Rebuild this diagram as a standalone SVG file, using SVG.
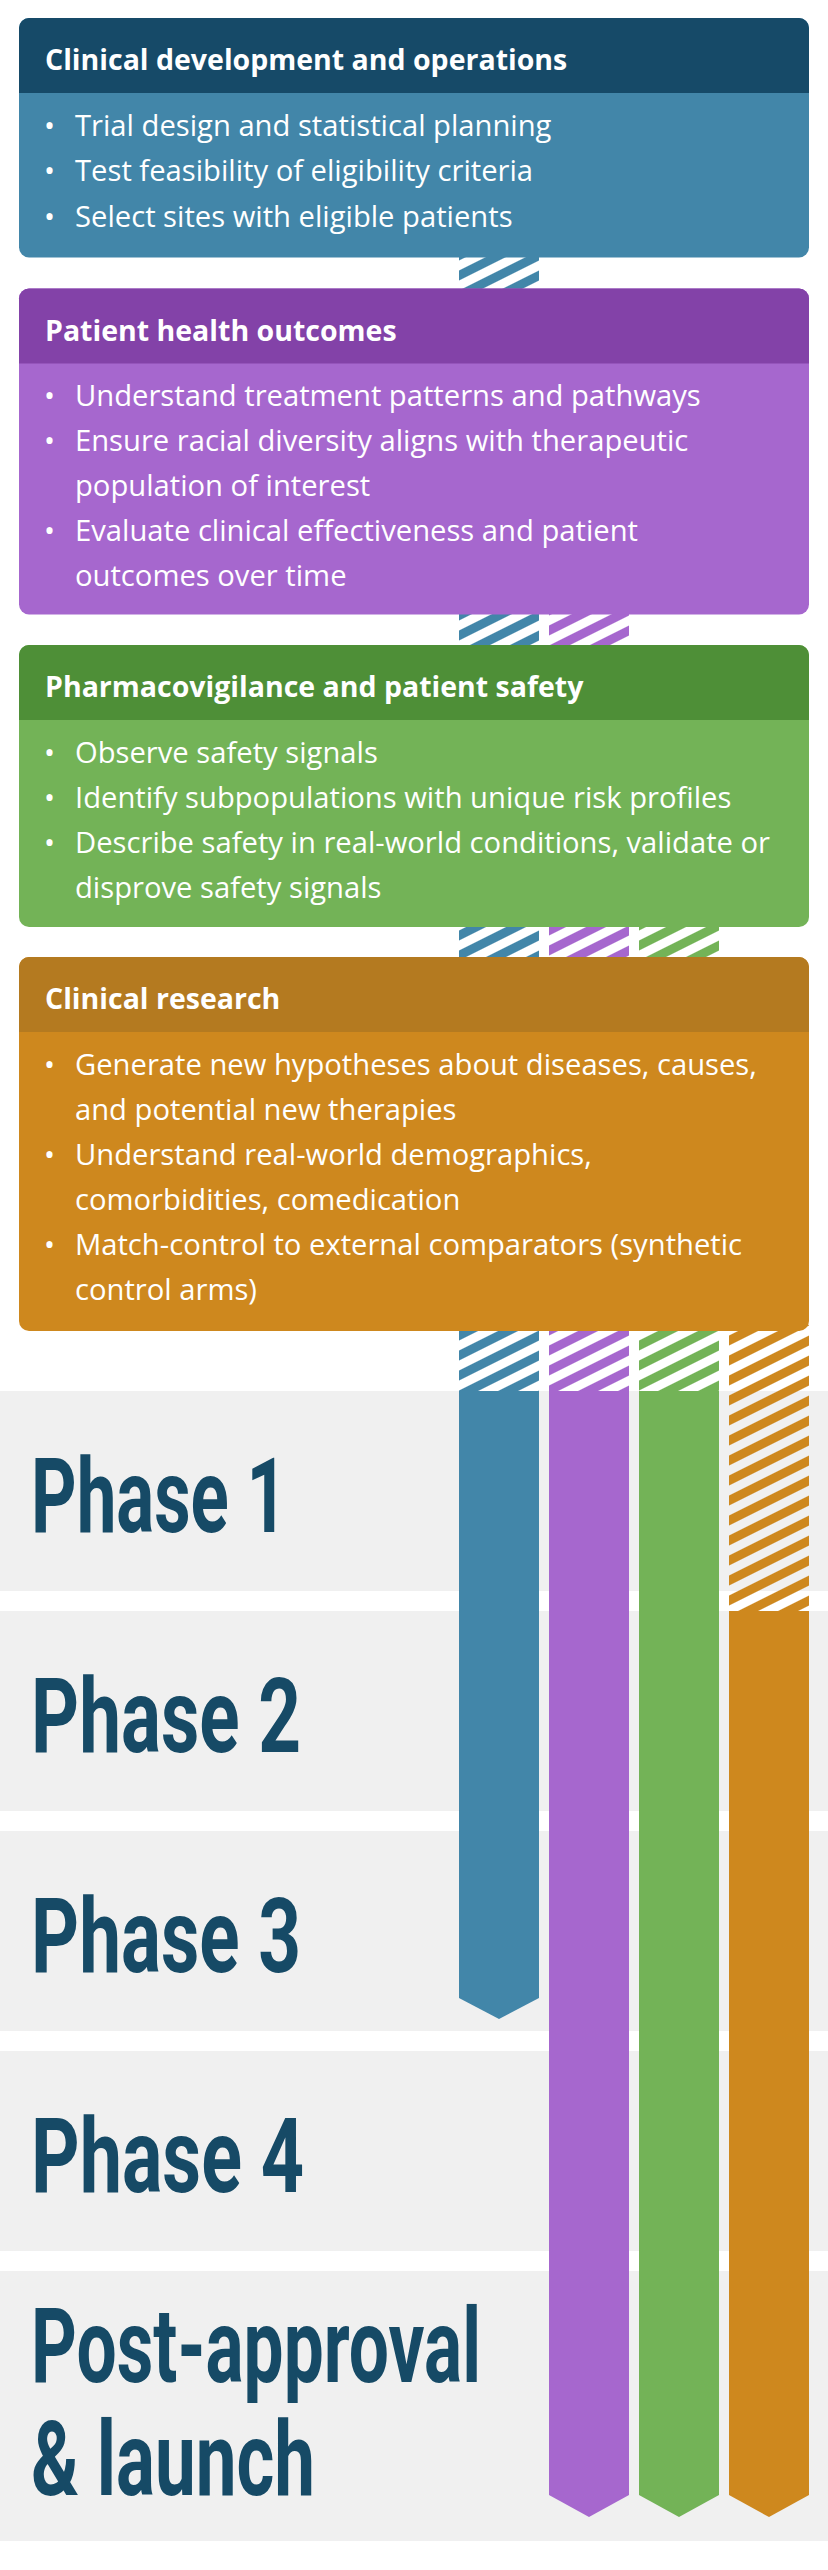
<svg xmlns="http://www.w3.org/2000/svg" width="828" height="2570" viewBox="0 0 828 2570">
<defs>
<style>
.title{font-family:"Open Sans","Liberation Sans",sans-serif;font-weight:700;font-size:28.5px;fill:#ffffff}
.item{font-family:"Open Sans","Liberation Sans",sans-serif;font-weight:400;font-size:29.2px;fill:#ffffff}
.phase{font-family:Roboto,"Liberation Sans",sans-serif;font-weight:700;font-size:103px;fill:#164a66}
.band{fill:#f0f0f0}
</style>
<pattern id="hBlue" patternUnits="userSpaceOnUse" width="10" height="17.889" patternTransform="rotate(-26.565)"><rect x="0" y="0" width="10" height="8.944" fill="#4286a9"/></pattern>
<pattern id="hPurple" patternUnits="userSpaceOnUse" width="10" height="17.889" patternTransform="rotate(-26.565)"><rect x="0" y="0" width="10" height="8.944" fill="#a667ce"/></pattern>
<pattern id="hGreen" patternUnits="userSpaceOnUse" width="10" height="17.889" patternTransform="rotate(-26.565)"><rect x="0" y="0" width="10" height="8.944" fill="#73b357"/></pattern>
<pattern id="hOrange" patternUnits="userSpaceOnUse" width="10" height="17.889" patternTransform="rotate(-26.565)"><rect x="0" y="0" width="10" height="8.944" fill="#ce881e"/></pattern>
</defs>
<rect x="0" y="0" width="828" height="2570" fill="#ffffff"/>

<g id="phase-1"><rect class="band" x="0" y="1391" width="828" height="200"/><text class="phase" x="31" y="1532" textLength="256" lengthAdjust="spacingAndGlyphs">Phase 1</text></g>
<g id="phase-2"><rect class="band" x="0" y="1611" width="828" height="200"/><text class="phase" x="31" y="1752" textLength="270" lengthAdjust="spacingAndGlyphs">Phase 2</text></g>
<g id="phase-3"><rect class="band" x="0" y="1831" width="828" height="200"/><text class="phase" x="31" y="1972" textLength="270" lengthAdjust="spacingAndGlyphs">Phase 3</text></g>
<g id="phase-4"><rect class="band" x="0" y="2051" width="828" height="200"/><text class="phase" x="31" y="2192" textLength="273" lengthAdjust="spacingAndGlyphs">Phase 4</text></g>
<g id="post-approval"><rect class="band" x="0" y="2271" width="828" height="270"/><text class="phase" x="31" y="2382" textLength="450" lengthAdjust="spacingAndGlyphs">Post-approval</text><text class="phase" x="31" y="2495" textLength="284" lengthAdjust="spacingAndGlyphs">&amp; launch</text></g>

<g id="connectors">
<rect x="459" y="250" width="80" height="1141" fill="url(#hBlue)"/>
<rect x="549" y="610" width="80" height="781" fill="url(#hPurple)"/>
<rect x="639" y="920" width="80" height="471" fill="url(#hGreen)"/>
<rect x="729" y="1325" width="80" height="286" fill="url(#hOrange)"/>
<polygon points="459,1391 539,1391 539,1998 499,2019 459,1998" fill="#4286a9"/>
<polygon points="549,1391 629,1391 629,2495 589,2517 549,2495" fill="#a667ce"/>
<polygon points="639,1391 719,1391 719,2495 679,2517 639,2495" fill="#73b357"/>
<polygon points="729,1611 809,1611 809,2495 769,2517 729,2495" fill="#ce881e"/>
</g>

<g id="clinical-development">
<rect x="19" y="18" width="790" height="239.5" rx="10" fill="#4286a9"/>
<path d="M19,93 V28 A10,10 0 0 1 29,18 H799 A10,10 0 0 1 809,28 V93 Z" fill="#164a68"/>
<text class="title" x="45" y="70">Clinical development and operations</text>
<text class="item" x="44" y="135.5">•</text><text class="item" x="75" y="135.5">Trial design and statistical planning</text>
<text class="item" x="44" y="181">•</text><text class="item" x="75" y="181">Test feasibility of eligibility criteria</text>
<text class="item" x="44" y="226.5">•</text><text class="item" x="75" y="226.5">Select sites with eligible patients</text>
</g>

<g id="patient-health-outcomes">
<rect x="19" y="288.5" width="790" height="326" rx="10" fill="#a667ce"/>
<path d="M19,363.5 V298.5 A10,10 0 0 1 29,288.5 H799 A10,10 0 0 1 809,298.5 V363.5 Z" fill="#8342a8"/>
<text class="title" x="45" y="340.5">Patient health outcomes</text>
<text class="item" x="44" y="406">•</text><text class="item" x="75" y="406">Understand treatment patterns and pathways</text>
<text class="item" x="44" y="451">•</text><text class="item" x="75" y="451">Ensure racial diversity aligns with therapeutic</text>
<text class="item" x="75" y="496">population of interest</text>
<text class="item" x="44" y="541">•</text><text class="item" x="75" y="541">Evaluate clinical effectiveness and patient</text>
<text class="item" x="75" y="585.5">outcomes over time</text>
</g>

<g id="pharmacovigilance">
<rect x="19" y="645" width="790" height="282" rx="10" fill="#73b357"/>
<path d="M19,720 V655 A10,10 0 0 1 29,645 H799 A10,10 0 0 1 809,655 V720 Z" fill="#4e8f37"/>
<text class="title" x="45" y="697">Pharmacovigilance and patient safety</text>
<text class="item" x="44" y="762.5">•</text><text class="item" x="75" y="762.5">Observe safety signals</text>
<text class="item" x="44" y="807.5">•</text><text class="item" x="75" y="807.5">Identify subpopulations with unique risk profiles</text>
<text class="item" x="44" y="852.5">•</text><text class="item" x="75" y="852.5">Describe safety in real-world conditions, validate or</text>
<text class="item" x="75" y="897.5">disprove safety signals</text>
</g>

<g id="clinical-research">
<rect x="19" y="957" width="790" height="374" rx="10" fill="#ce881e"/>
<path d="M19,1032 V967 A10,10 0 0 1 29,957 H799 A10,10 0 0 1 809,967 V1032 Z" fill="#b47a20"/>
<text class="title" x="45" y="1009">Clinical research</text>
<text class="item" x="44" y="1075">•</text><text class="item" x="75" y="1075">Generate new hypotheses about diseases, causes,</text>
<text class="item" x="75" y="1120">and potential new therapies</text>
<text class="item" x="44" y="1165">•</text><text class="item" x="75" y="1165">Understand real-world demographics,</text>
<text class="item" x="75" y="1210">comorbidities, comedication</text>
<text class="item" x="44" y="1255">•</text><text class="item" x="75" y="1255">Match-control to external comparators (synthetic</text>
<text class="item" x="75" y="1300">control arms)</text>
</g>
</svg>
